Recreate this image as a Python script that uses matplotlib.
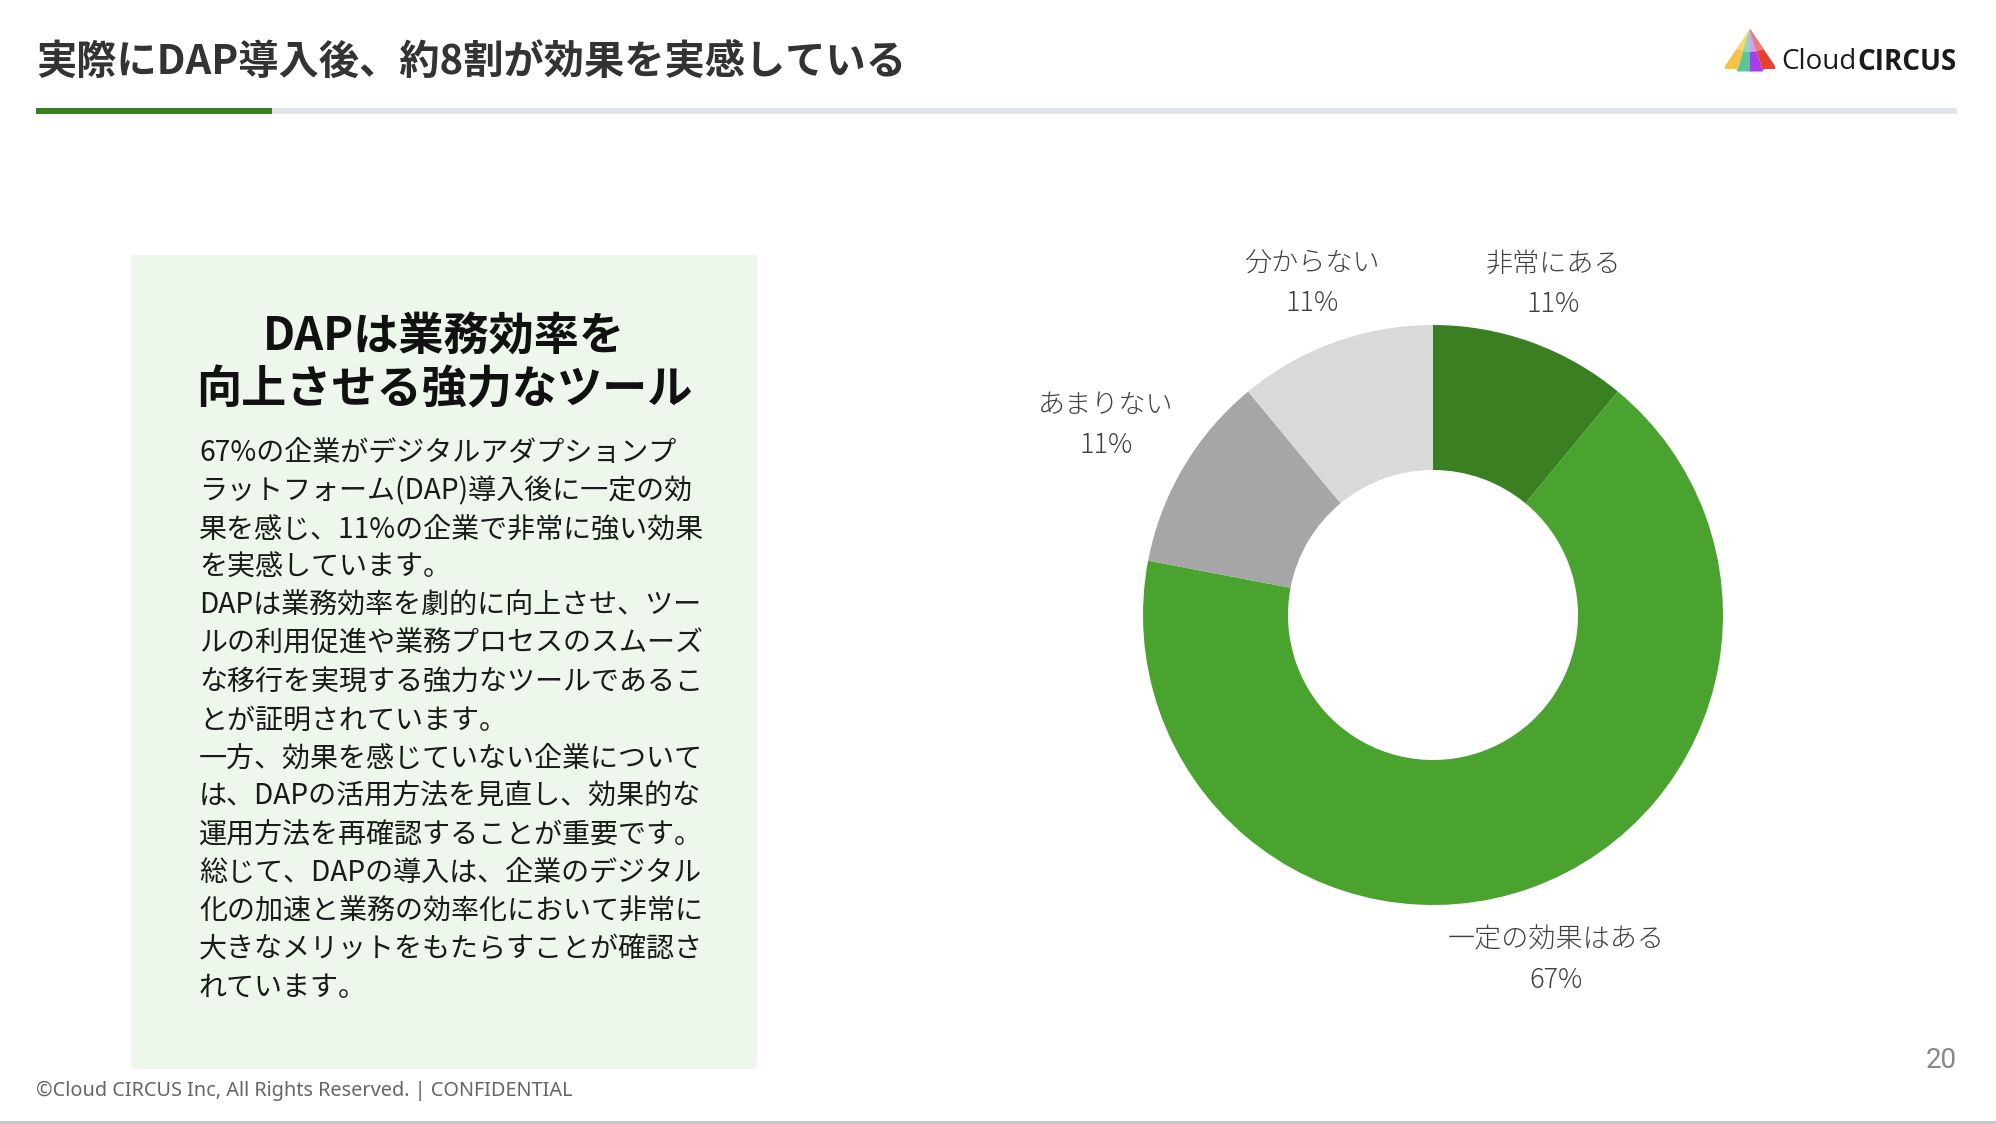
import matplotlib
matplotlib.use('Agg')
import matplotlib.pyplot as plt
import numpy as np
from matplotlib.patches import Rectangle, Polygon, Wedge

plt.rcParams['font.family'] = ['Noto Sans CJK JP', 'DejaVu Sans']

# =========================
# Data
# =========================
categories = ["非常にある", "一定の効果はある", "あまりない", "分からない"]
values = [11, 67, 11, 11]
colors = ["#3A8023", "#4AA22F", "#A6A6A6", "#D9D9D9"]

title = "実際にDAP導入後、約8割が効果を実感している"
box_heading = ["DAPは業務効率を", "向上させる強力なツール"]
body_lines = [
    "67%の企業がデジタルアダプションプ",
    "ラットフォーム(DAP)導入後に一定の効",
    "果を感じ、11%の企業で非常に強い効果",
    "を実感しています。",
    "DAPは業務効率を劇的に向上させ、ツー",
    "ルの利用促進や業務プロセスのスムーズ",
    "な移行を実現する強力なツールであるこ",
    "とが証明されています。",
    "一方、効果を感じていない企業について",
    "は、DAPの活用方法を見直し、効果的な",
    "運用方法を再確認することが重要です。",
    "総じて、DAPの導入は、企業のデジタル",
    "化の加速と業務の効率化において非常に",
    "大きなメリットをもたらすことが確認さ",
    "れています。",
]
footer = "©Cloud CIRCUS Inc, All Rights Reserved. | CONFIDENTIAL"
page_no = "20"

W, H = 1996, 1124
fig = plt.figure(figsize=(W / 100, H / 100), dpi=100)
fig.patch.set_facecolor("white")


def fx(x):
    return x / W


def fy(y):
    return 1 - y / H


# =========================
# Header
# =========================
fig.text(fx(36), fy(62), title, fontsize=29, fontweight="bold", color="#333333",
         ha="left", va="center")
fig.add_artist(Rectangle((fx(36), fy(114)), fx(1957 - 36), 6 / H,
                         transform=fig.transFigure, color="#E1E4E8", lw=0))
fig.add_artist(Rectangle((fx(36), fy(114)), fx(272 - 36), 6 / H,
                         transform=fig.transFigure, color="#3A8023", lw=0))

# logo (cone + text)
lax = fig.add_axes([fx(1722), fy(82), fx(56), 56 / H])
lax.set_xlim(0, 56)
lax.set_ylim(56, 0)
lax.axis("off")
apex = (28, 3)
base = [(3, 40), (15.5, 44), (28, 45), (40.5, 44), (53, 40)]
cone_cols = ["#F6C445", "#5BC49A", "#A93BF0", "#E8402F"]
light_cols = ["#F8D870", "#8FD9BA", "#D19CF5", "#EE7A72"]
for i in range(4):
    p0, p1 = base[i], base[i + 1]
    lax.add_patch(Polygon([apex, p0, p1], closed=True, color=cone_cols[i], lw=0))
    # partie haute plus claire
    t = 0.55
    q0 = (apex[0] + (p0[0] - apex[0]) * t, apex[1] + (p0[1] - apex[1]) * t)
    q1 = (apex[0] + (p1[0] - apex[0]) * t, apex[1] + (p1[1] - apex[1]) * t)
    lax.add_patch(Polygon([apex, q0, q1], closed=True, color=light_cols[i], lw=0))
    mx = (p0[0] + p1[0]) / 2
    lax.add_patch(Wedge((mx, (p0[1] + p1[1]) / 2 + 1), 6.6, 180, 360,
                        color=cone_cols[i], lw=0))
t_circus = fig.text(fx(1957), fy(62), "CIRCUS", fontsize=20, fontweight="bold",
                    color="#1a1a1a", ha="right", va="center", family="Open Sans")
renderer = fig.canvas.get_renderer()
bb = t_circus.get_window_extent(renderer)
fig.text(bb.x0 / W - 1 / W, fy(62), "Cloud", fontsize=20, color="#1a1a1a",
         ha="right", va="center", family="Open Sans")

# =========================
# Left text box
# =========================
fig.add_artist(Rectangle((fx(131), fy(1069)), fx(757 - 131), (1069 - 255) / H,
                         transform=fig.transFigure, color="#EDF7EC", lw=0))
for i, line in enumerate(box_heading):
    fig.text(fx(444), fy(338 + i * 52), line, fontsize=32.5, fontweight="bold",
             color="#111111", ha="center", va="center")
for i, line in enumerate(body_lines):
    fig.text(fx(199), fy(453 + i * 38.2), line, fontsize=20.2, color="#1a1a1a",
             ha="left", va="center")

# =========================
# Donut chart
# =========================
cx, cy, r = 1433, 615, 290
L = 1.5
S = 2 * L * r
ax = fig.add_axes([fx(cx - S / 2), fy(cy + S / 2), S / W, S / H])
wedges, _ = ax.pie(values, colors=colors, startangle=90, counterclock=False,
                   radius=1, wedgeprops=dict(width=0.5, linewidth=0))
label_dist = [1.225, 1.25, 1.31, 1.228]
for w, c, v, d in zip(wedges, categories, values, label_dist):
    ang = np.deg2rad((w.theta1 + w.theta2) / 2)
    ax.text(d * np.cos(ang), d * np.sin(ang) - 0.012, f"{c}\n{v}%",
            ha="center", va="center", multialignment="center", fontsize=19.5,
            color="#404040", fontweight="light", linespacing=1.55)
ax.set_xlim(-L, L)
ax.set_ylim(-L, L)
ax.set_aspect("equal")
ax.axis("off")

# =========================
# Footer
# =========================
fig.text(fx(36), fy(1091), footer, fontsize=14.3, color="#666666", ha="left",
         va="center", family="Noto Sans")
fig.text(fx(1957), fy(1061), page_no, fontsize=20, color="#888888", ha="right",
         va="center", family="Roboto")
fig.add_artist(Rectangle((0, 0), 1, 3 / H, transform=fig.transFigure,
                         color="#C8C8C8", lw=0))

plt.savefig("out.png", dpi=100)
